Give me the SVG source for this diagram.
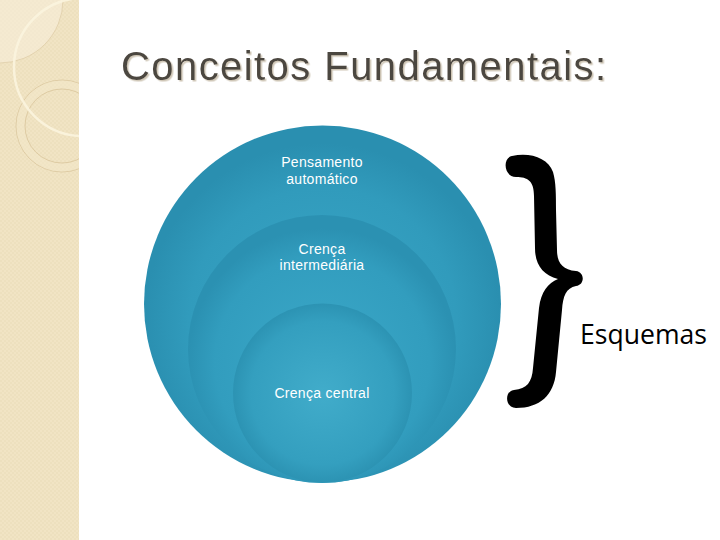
<svg xmlns="http://www.w3.org/2000/svg" width="720" height="540" viewBox="0 0 720 540">
  <style>
    .title { font-family: "Liberation Sans", Arial, sans-serif; font-size: 40px; fill: #4c463f; }
    .lbl { font-family: "Liberation Sans", Arial, sans-serif; font-size: 14px; fill: #ffffff; text-anchor: middle; letter-spacing: 0.3px; }
    .esq { font-family: "Open Sans", "DejaVu Sans", sans-serif; font-size: 27px; fill: #000000; }
  </style>
  <defs>
    <pattern id="chk" width="4" height="4" patternUnits="userSpaceOnUse">
      <rect width="4" height="4" fill="#f1e4c4"/>
      <rect width="2" height="2" fill="#ede0be"/>
      <rect x="2" y="2" width="2" height="2" fill="#ede0be"/>
    </pattern>
    <clipPath id="strip"><rect x="0" y="0" width="79" height="540"/></clipPath>
    <filter id="shadow" x="-5%" y="-20%" width="110%" height="140%">
      <feDropShadow dx="1.5" dy="1.5" stdDeviation="0.3" flood-color="#cfc6b6"/>
    </filter>
    <radialGradient id="g1" cx="0.5" cy="0.55" r="0.5">
      <stop offset="0" stop-color="#3aa7c7"/>
      <stop offset="0.75" stop-color="#319bbc"/>
      <stop offset="1" stop-color="#2a8fb0"/>
    </radialGradient>
    <radialGradient id="g2" cx="0.5" cy="0.55" r="0.5">
      <stop offset="0" stop-color="#3ba8c8"/>
      <stop offset="0.8" stop-color="#329dbe"/>
      <stop offset="1" stop-color="#2b91b2"/>
    </radialGradient>
    <radialGradient id="g3" cx="0.5" cy="0.5" r="0.5">
      <stop offset="0" stop-color="#41acca"/>
      <stop offset="0.8" stop-color="#349fbf"/>
      <stop offset="1" stop-color="#2c93b3"/>
    </radialGradient>
  </defs>

  <rect width="720" height="540" fill="#ffffff"/>

  <g id="sidebar" clip-path="url(#strip)">
    <rect x="0" y="0" width="79" height="540" fill="url(#chk)"/>
    <circle cx="0" cy="0" r="63" fill="#f7efdc" fill-opacity="0.55" stroke="#dccaa4" stroke-width="0.7"/>
    <circle cx="62" cy="126" r="46" fill="none" stroke="#d9c59c" stroke-width="0.8"/>
    <circle cx="62" cy="126" r="41.5" fill="none" stroke="#f3e8cc" stroke-width="8" stroke-opacity="0.45"/>
    <circle cx="62" cy="126" r="37" fill="none" stroke="#d9c59c" stroke-width="0.8"/>
    <circle cx="83" cy="67" r="69" fill="none" stroke="#fbf4de" stroke-width="2.5" stroke-opacity="0.9"/>
  </g>

  <g id="title">
    <text class="title" x="121" y="80" textLength="485" lengthAdjust="spacing" filter="url(#shadow)">Conceitos Fundamentais:</text>
  </g>

  <g id="node-pensamento">
    <circle cx="322.5" cy="304" r="178.5" fill="url(#g1)"/>
    <text class="lbl" x="322" y="167">Pensamento</text>
    <text class="lbl" x="322" y="184">automático</text>
  </g>

  <g id="node-intermediaria">
    <circle cx="322" cy="349" r="134" fill="url(#g2)"/>
    <text class="lbl" x="322" y="254">Crença</text>
    <text class="lbl" x="322" y="270">intermediária</text>
  </g>

  <g id="node-central">
    <circle cx="322.5" cy="393" r="89.5" fill="url(#g3)"/>
    <text class="lbl" x="322" y="398">Crença central</text>
  </g>

  <g id="connectors">
    <path d="M 512 156 C 530 152, 548 158, 553 172 C 556 182, 556 195, 556 210 L 557 250 C 557 262, 562 270, 576 271 C 585 272, 585 285, 576 286 C 566 288, 563 296, 562 310 L 556 372 C 554 395, 540 408, 516 408 C 505 408, 504 391, 514 390 C 527 389, 532 382, 533 368 L 539 308 C 541 292, 548 283, 558 279 C 543 275, 535 265, 535 248 L 534 196 C 534 181, 528 177, 516 177 C 504 177, 502 158, 512 156 Z" fill="#000000"/>
  </g>

  <g id="node-esquemas">
    <text class="esq" x="580" y="344" textLength="127" lengthAdjust="spacingAndGlyphs">Esquemas</text>
  </g>
</svg>
